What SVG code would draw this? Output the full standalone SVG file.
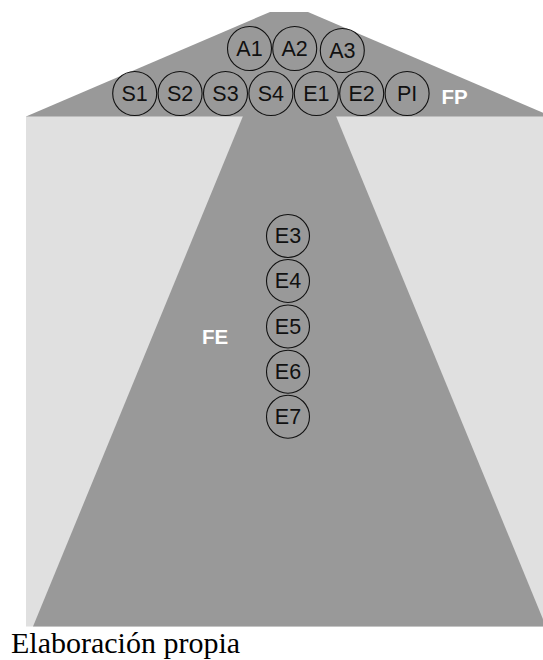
<svg xmlns="http://www.w3.org/2000/svg" width="543" height="660" viewBox="0 0 543 660">
<style>
.bg{fill:#e0e0e0}
.dk{fill:#999999}
.node circle{fill:none;stroke:#111;stroke-width:1.1}
.node text{font-family:"Liberation Sans",Arial,sans-serif;font-size:21.5px;fill:#111;text-anchor:middle;dominant-baseline:central}
.lbl{font-family:"Liberation Sans",Arial,sans-serif;font-size:20.5px;font-weight:bold;fill:#ffffff}
.cap{font-family:"Liberation Serif","Times New Roman",serif;font-size:30px;fill:#000}
</style>
<rect width="543" height="660" fill="#ffffff"/>
<rect class="bg" x="26" y="116" width="520" height="510.5"/>
<polygon class="dk" points="26,116.5 270,12 308,12 552,116.5"/>
<polygon class="dk" points="243,116 336,116 546,626.5 33,626.5"/>
<text class="lbl" x="441.5" y="103.5">FP</text>
<text class="lbl" x="202" y="344">FE</text>
<g id="connectors"></g>
<g id="A1" class="node"><circle cx="249.5" cy="48.5" r="22"/><text x="249.5" y="48.5">A1</text></g>
<g id="A2" class="node"><circle cx="294.7" cy="48.5" r="22"/><text x="294.7" y="48.5">A2</text></g>
<g id="A3" class="node"><circle cx="342.3" cy="50.5" r="22"/><text x="342.3" y="50.5">A3</text></g>
<g id="S1" class="node"><circle cx="134.7" cy="93.5" r="22"/><text x="134.7" y="93.5">S1</text></g>
<g id="S2" class="node"><circle cx="180.1" cy="93.5" r="22"/><text x="180.1" y="93.5">S2</text></g>
<g id="S3" class="node"><circle cx="225.5" cy="93.5" r="22"/><text x="225.5" y="93.5">S3</text></g>
<g id="S4" class="node"><circle cx="270.9" cy="93.5" r="22"/><text x="270.9" y="93.5">S4</text></g>
<g id="E1" class="node"><circle cx="316.3" cy="93.5" r="22"/><text x="316.3" y="93.5">E1</text></g>
<g id="E2" class="node"><circle cx="361.7" cy="93.5" r="22"/><text x="361.7" y="93.5">E2</text></g>
<g id="PI" class="node"><circle cx="407.1" cy="93.5" r="22"/><text x="407.1" y="93.5">PI</text></g>
<g id="E3" class="node"><circle cx="288" cy="236" r="21.5"/><text x="288" y="236">E3</text></g>
<g id="E4" class="node"><circle cx="288" cy="281" r="21.5"/><text x="288" y="281">E4</text></g>
<g id="E5" class="node"><circle cx="288" cy="326.5" r="21.5"/><text x="288" y="326.5">E5</text></g>
<g id="E6" class="node"><circle cx="288" cy="371.7" r="21.5"/><text x="288" y="371.7">E6</text></g>
<g id="E7" class="node"><circle cx="288" cy="416.7" r="21.5"/><text x="288" y="416.7">E7</text></g>
<text class="cap" x="11" y="653">Elaboración propia</text>
</svg>
